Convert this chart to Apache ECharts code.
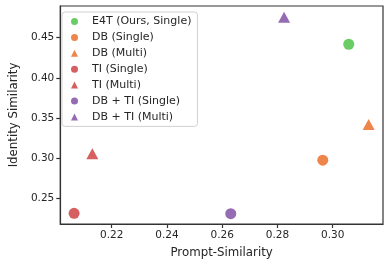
<!DOCTYPE html>
<html><head><meta charset="utf-8">
<script src="https://cdn.jsdelivr.net/npm/echarts@6/dist/echarts.min.js"></script>
<style>html,body{margin:0;padding:0;background:#fff}#c{width:390px;height:266px}</style>
</head><body><div id="c"></div>
<script>
const seriesNames = ['E4T (Ours, Single)','DB (Single)','DB (Multi)','TI (Single)','TI (Multi)','DB + TI (Single)','DB + TI (Multi)'];
const promptSim = [0.3058, 0.2964, 0.3130, 0.2064, 0.2130, 0.2631, 0.2824];
const identitySim = [0.4418, 0.2979, 0.3420, 0.2319, 0.3058, 0.2314, 0.4753];
const symbols = ['circle','circle','triangle','circle','triangle','circle','triangle'];
const colors = ['#6acc64','#ee854a','#ee854a','#d65f5f','#d65f5f','#956cb4','#956cb4'];
const xTicks = [0.22, 0.24, 0.26, 0.28, 0.30];
const yTicks = [0.25, 0.30, 0.35, 0.40, 0.45];

const chart = echarts.init(document.getElementById('c'));
const font = 'DejaVu Sans';
const dark = '#262626';
chart.setOption({
  animation: false,
  grid: {left: 56, top: 6, right: 7, bottom: 42, show: true, borderColor: '#333', borderWidth: 1.2, backgroundColor: 'transparent'},
  legend: {
    orient: 'vertical', left: 62, top: 12,
    padding: [4, 6, 4, 9], itemGap: 4.9, itemWidth: 7, itemHeight: 7,
    borderColor: '#d0d0d0', borderWidth: 1, borderRadius: 3,
    textStyle: {fontFamily: font, fontSize: 11, lineHeight: 10, color: dark, padding: [0,0,0,9]},
    data: seriesNames.map((n, i) => ({name: n, icon: symbols[i]}))
  },
  xAxis: {
    type: 'value', min: 0.2014, max: 0.3182,
    name: 'Prompt-Similarity', nameLocation: 'middle', nameGap: 23,
    nameTextStyle: {fontFamily: font, fontSize: 11.8, color: dark},
    axisLine: {show: true, lineStyle: {color: '#333', width: 1.2}},
    axisTick: {show: true, length: 4, customValues: xTicks, lineStyle: {color: '#333', width: 1.2}},
    axisLabel: {customValues: xTicks, fontFamily: font, fontSize: 10.5, color: dark, margin: 6, formatter: v => v.toFixed(2)},
    splitLine: {show: false}
  },
  yAxis: {
    type: 'value', min: 0.2186, max: 0.4893,
    name: 'Identity Similarity', nameLocation: 'middle', nameGap: 38,
    nameTextStyle: {fontFamily: font, fontSize: 11.8, color: dark},
    axisLine: {show: true, lineStyle: {color: '#333', width: 1.2}},
    axisTick: {show: true, length: 4, customValues: yTicks, lineStyle: {color: '#333', width: 1.2}},
    axisLabel: {customValues: yTicks, fontFamily: font, fontSize: 10.5, color: dark, margin: 6, formatter: v => v.toFixed(2)},
    splitLine: {show: false}
  },
  series: seriesNames.map((n, i) => ({
    name: n, type: 'scatter', symbol: symbols[i], symbolSize: symbols[i] === 'circle' ? 11 : [12, 11],
    itemStyle: {color: colors[i], opacity: 1},
    data: [[promptSim[i], identitySim[i]]]
  }))
});
</script></body></html>
